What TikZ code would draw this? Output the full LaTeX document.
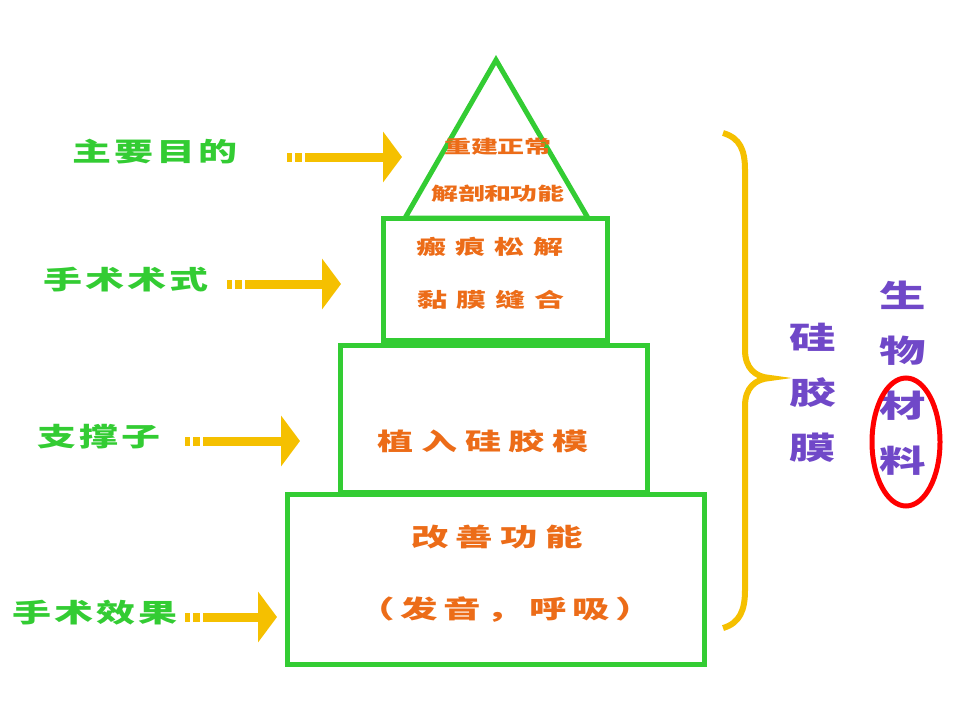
\documentclass[tikz,border=0pt]{standalone}
\usepackage{fontspec}
\usepackage{tikz}
\usetikzlibrary{shapes}
\usetikzlibrary{arrows.meta}
\usetikzlibrary{positioning}
\newfontfamily\cjk[FakeStretch=1.5]{Noto Sans CJK SC}
\newcommand{\taille}[2]{\cjk\bfseries\fontsize{#1}{#1}\selectfont\addfontfeature{LetterSpace=#2}}
\definecolor{vertpyr}{RGB}{51,204,51}
\definecolor{orangetxt}{RGB}{236,108,24}
\definecolor{jaunefl}{RGB}{245,192,0}
\definecolor{violettxt}{RGB}{112,72,200}
\tikzstyle{etage}=[draw=vertpyr, line width=5pt, rectangle, inner sep=0pt]
\tikzstyle{titre}=[text=vertpyr, font=\taille{26}{11}]
\tikzstyle{texte}=[text=orangetxt]
\tikzstyle{materiau}=[text=violettxt, align=center, font=\cjk\bfseries\fontsize{31}{55}\selectfont]
\tikzstyle{fleche}=[draw=jaunefl, line width=9pt, -{Triangle[length=19pt,width=50pt]},
dash pattern=on 5pt off 3pt on 7pt off 3pt on 1000pt off 1pt]
\tikzstyle{accolade}=[draw=jaunefl, line width=6pt]

\begin{document}
\begin{tikzpicture}[x=1pt,y=-1pt]
\useasboundingbox (0,0) rectangle (960,720);
\node[titre] (t1) at (155,152) {主要目的};
\node[titre] (t2) at (126,280) {手术术式};
\node[titre] (t3) at (99,437) {支撑子};
\node[titre] (t4) at (95,613) {手术效果};
\draw[etage] (405,218) -- (496,60) -- (588,218) -- cycle;
\node[etage, minimum width=224, minimum height=122] (e1) at (495.5,279.5) {};
\node[etage, minimum width=307, minimum height=147] (e2) at (494,419) {};
\node[etage, minimum width=417, minimum height=170] (e3) at (496,579.5) {};
\node[texte, font=\taille{18}{-3}] (p1) at (498,147) {重建正常};
\node[texte, font=\taille{18}{-3}] (p2) at (498,194) {解剖和功能};
\node[texte, font=\taille{20}{45}] (x1) at (490,247) {瘢痕松解};
\node[texte, font=\taille{20}{45}] (x2) at (491,300) {黏膜缝合};
\node[texte, font=\taille{24}{33}] (x3) at (483,441) {植入硅胶模};
\node[texte, font=\taille{25}{29}] (x4) at (497,537) {改善功能};
\node[texte, font=\taille{25}{22}] (x5) at (505,610) {（发音，呼吸）};
\node[materiau] (m1) at (813,393) {硅\\胶\\膜};
\node[materiau] (m2) at (903,378) {生\\物\\材\\料};
\draw[red, line width=5pt] (906,442) ellipse [x radius=34, y radius=64];
\coordinate (d1) at (287,157);
\coordinate (f1) at (402,157);
\coordinate (d2) at (227,284);
\coordinate (f2) at (341,284);
\coordinate (d3) at (185,441);
\coordinate (f3) at (300,441);
\coordinate (d4) at (185,617);
\coordinate (f4) at (277,617);
%fleches et accolade
\draw[fleche] (d1) -- (f1);
\draw[fleche] (d2) -- (f2);
\draw[fleche] (d3) -- (f3);
\draw[fleche] (d4) -- (f4);
\draw[accolade] (723,133) .. controls (740,138) and (745,150) .. (745,170) -- (745,350)
.. controls (745,368) and (755,377) .. (770,378) .. controls (755,379) and (745,388) .. (745,406)
-- (745,590) .. controls (745,610) and (740,623) .. (723,628);
\end{tikzpicture}
\end{document}
